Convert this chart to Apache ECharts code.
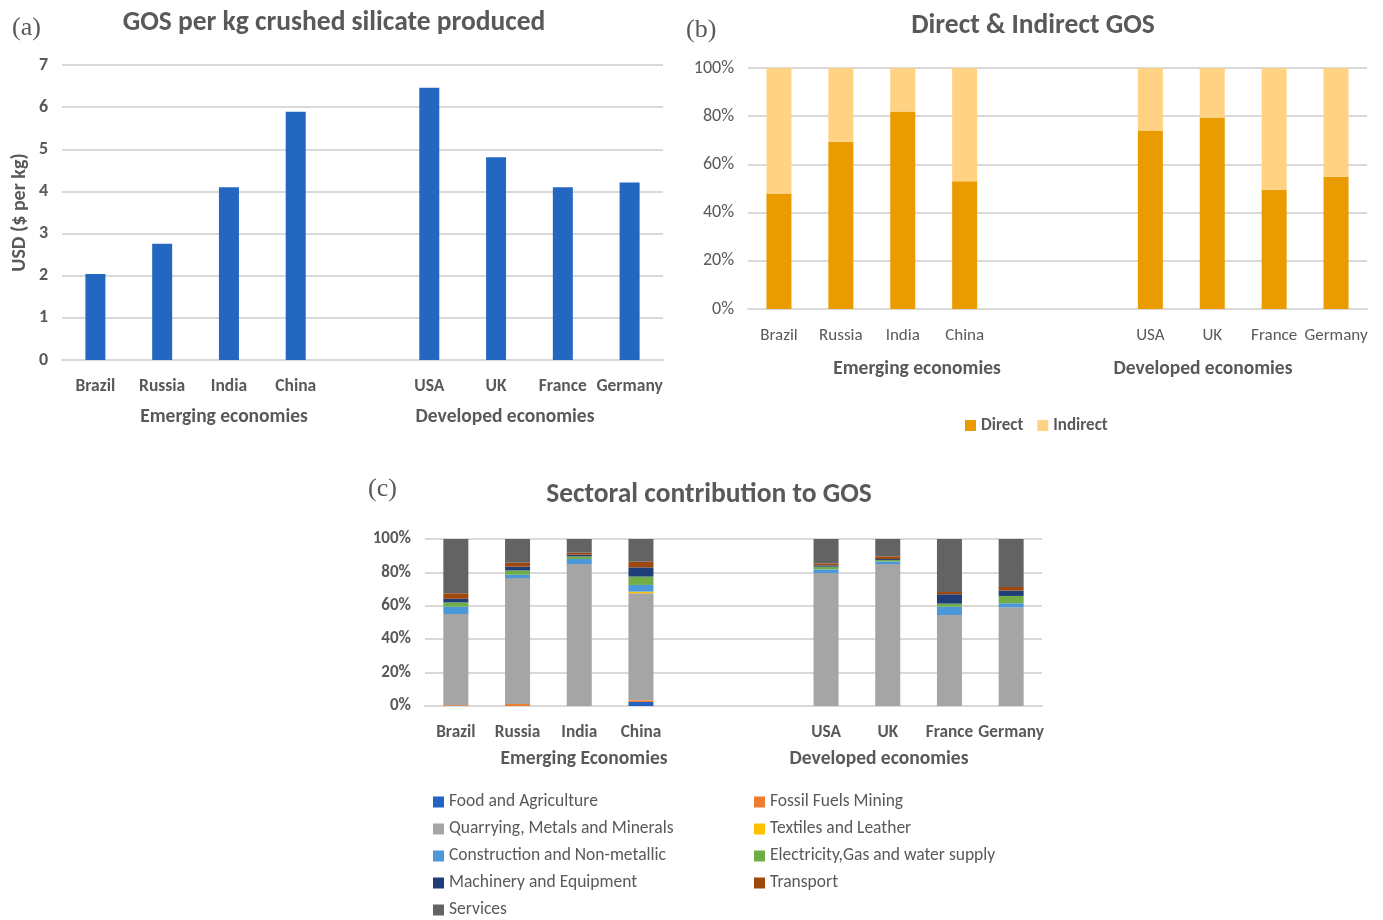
<!DOCTYPE html>
<html><head><meta charset="utf-8">
<script src="https://cdn.jsdelivr.net/npm/echarts@6/dist/echarts.min.js"></script>
<style>html,body{margin:0;padding:0;background:#fff}#c{width:1383px;height:920px}</style>
</head><body><div id="c"></div>
<script>
const catsA = ['Brazil','Russia','India','China','','USA','UK','France','Germany'];
const gosPerKg = [2.04, 2.76, 4.10, 5.89, null, 6.46, 4.81, 4.10, 4.21];
const yTicksA = [0,1,2,3,4,5,6,7];

const catsBC = ['Brazil','Russia','India','China','','','USA','UK','France','Germany'];
const directShare   = [47.9, 69.4, 82.0, 53.0, null, null, 74.1, 79.5, 49.5, 54.9];
const indirectShare = [52.1, 30.6, 18.0, 47.0, null, null, 25.9, 20.5, 50.5, 45.1];

const sectorNames = ['Food and Agriculture','Fossil Fuels Mining','Quarrying, Metals and Minerals','Textiles and Leather','Construction and Non-metallic','Electricity,Gas and water supply','Machinery and Equipment','Transport','Services'];
const foodAg       = [0,    0,    0,    2.4,  null, null, 0,    0,    0,    0];
const fossilFuels  = [0.5,  1.2,  0,    1.0,  null, null, 0,    0,    0,    0];
const quarrying    = [54.6, 75.4, 85.0, 64.1, null, null, 79.6, 85.0, 54.5, 59.1];
const textiles     = [0,    0,    0,    1.0,  null, null, 0,    0,    0,    0];
const construction = [4.4,  2.0,  3.0,  4.0,  null, null, 2.2,  1.6,  5.0,  2.4];
const electricity  = [2.5,  2.6,  1.6,  5.0,  null, null, 1.6,  0.8,  1.8,  4.4];
const machinery    = [2.2,  2.2,  1.0,  5.5,  null, null, 0.8,  0.6,  5.6,  3.2];
const transport    = [3.3,  2.4,  1.2,  3.4,  null, null, 1.2,  1.6,  1.4,  2.2];
const services     = [32.5, 14.2, 8.2,  13.6, null, null, 14.6, 10.4, 31.7, 28.7];
const sectorData = [foodAg, fossilFuels, quarrying, textiles, construction, electricity, machinery, transport, services];
const sectorColors = ['#2264C4','#ED7D31','#A5A5A5','#FFC000','#4A98D9','#70AD47','#1F3E78','#9E480E','#636363'];

const FONT = 'Carlito, Lato, sans-serif';
const TXT = '#595959';
const GRID = '#D9D9D9';

const chart = echarts.init(document.getElementById('c'), null, {renderer:'canvas'});

function yAx(idx, max, interval, fmt, bold, size, extra) {
  return Object.assign({
    type:'value', gridIndex:idx, min:0, max:max, interval:interval,
    axisLine:{show:false}, axisTick:{show:false},
    splitLine:{lineStyle:{color:GRID, width:2}},
    axisLabel:{color:TXT, fontFamily:FONT, fontSize:size, fontWeight:bold?'bold':'normal', margin:14, formatter:fmt}
  }, extra||{});
}
function xAx(idx, data, bold, size) {
  return {
    type:'category', gridIndex:idx, data:data,
    axisLine:{lineStyle:{color:GRID, width:2}}, axisTick:{show:false},
    axisLabel:{color:TXT, fontFamily:FONT, fontSize:size, fontWeight:bold?'bold':'normal', margin:18, interval:0}
  };
}

const series = [
  {type:'bar', name:'GOS', xAxisIndex:0, yAxisIndex:0, data:gosPerKg, barWidth:20, itemStyle:{color:'#2467C1'}},
  {type:'bar', name:'Direct', xAxisIndex:1, yAxisIndex:1, stack:'b', data:directShare, barWidth:25, itemStyle:{color:'#EA9B00'}},
  {type:'bar', name:'Indirect', xAxisIndex:1, yAxisIndex:1, stack:'b', data:indirectShare, barWidth:25, itemStyle:{color:'#FFD284'}}
];
sectorNames.forEach((n,i)=>{
  series.push({type:'bar', name:n, xAxisIndex:2, yAxisIndex:2, stack:'c', data:sectorData[i], barWidth:25, itemStyle:{color:sectorColors[i]}});
});

function txt(x,y,s,size,weight,family,align){
  return {type:'text', x:x, y:y, style:{text:s, fill:TXT, font:(weight||'bold')+' '+size+'px '+(family||FONT), textAlign:align||'center', textVerticalAlign:'middle'}};
}

const legendText = {color:TXT, fontFamily:FONT, fontSize:17.5, lineHeight:18};

chart.setOption({
  animation:false,
  grid:[
    {left:62, right:720, top:65, bottom:560},
    {left:748, right:16, top:68, bottom:611},
    {left:425, right:341, top:539, bottom:214}
  ],
  xAxis:[ xAx(0, catsA, true, 17.5), xAx(1, catsBC, false, 17), xAx(2, catsBC, true, 17.3) ],
  yAxis:[
    yAx(0, 7, 1, v=>v, true, 18, {name:'USD ($ per kg)', nameLocation:'middle', nameGap:32, nameRotate:90,
        nameTextStyle:{color:TXT, fontFamily:FONT, fontSize:20, fontWeight:'bold'}}),
    yAx(1, 100, 20, v=>v+'%', false, 18),
    yAx(2, 100, 20, v=>v+'%', true, 17)
  ],
  legend:[
    {data:['Direct','Indirect'], left:960, top:412, itemWidth:11, itemHeight:11, itemGap:14, icon:'rect',
     textStyle:{color:TXT, fontFamily:FONT, fontSize:17, fontWeight:'bold'}},
    {data:[sectorNames[0],sectorNames[2],sectorNames[4],sectorNames[6],sectorNames[8]], orient:'vertical', left:433, top:793, padding:0,
     itemWidth:11, itemHeight:11, itemGap:9, icon:'rect', textStyle:legendText},
    {data:[sectorNames[1],sectorNames[3],sectorNames[5],sectorNames[7]], orient:'vertical', left:754, top:793, padding:0,
     itemWidth:11, itemHeight:11, itemGap:9, icon:'rect', textStyle:legendText}
  ],
  series:series,
  graphic:[
    txt(334,23,'GOS per kg crushed silicate produced',27.5),
    txt(1033,26,'Direct & Indirect GOS',27.5),
    txt(709,495,'Sectoral contribution to GOS',27.5),
    txt(12,28,'(a)',26,'normal','"Liberation Serif", serif','left'),
    txt(686,30,'(b)',26,'normal','"Liberation Serif", serif','left'),
    txt(368,489,'(c)',26,'normal','"Liberation Serif", serif','left'),
    txt(224,417,'Emerging economies',19.5),
    txt(505,417,'Developed economies',19.5),
    txt(917,369,'Emerging economies',19.5),
    txt(1203,369,'Developed economies',19.5),
    txt(584,759,'Emerging Economies',19.5),
    txt(879,759,'Developed economies',19.5)
  ]
});
</script>
</body></html>
